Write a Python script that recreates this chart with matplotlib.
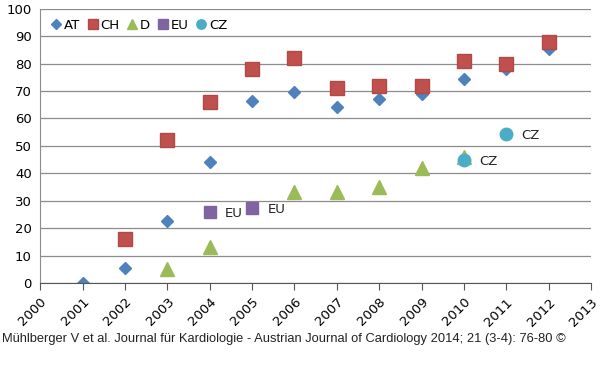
import numpy as np
import matplotlib
matplotlib.use('Agg')
import matplotlib.pyplot as plt

# values
at_years = [2001, 2002, 2003, 2004, 2005, 2006, 2007, 2008, 2009, 2010, 2011, 2012]
at_vals = [0, 5.5, 22.5, 44, 66.5, 69.5, 64, 67, 69, 74.5, 78, 85.5]
ch_years = [2002, 2003, 2004, 2005, 2006, 2007, 2008, 2009, 2010, 2011, 2012]
ch_vals = [16, 52, 66, 78, 82, 71, 72, 72, 81, 80, 88]
d_years = [2003, 2004, 2006, 2007, 2008, 2009, 2010]
d_vals = [5, 13, 33, 33, 35, 42, 46]
eu_years = [2004, 2005]
eu_vals = [26, 27.5]
cz_years = [2010, 2011]
cz_vals = [45, 54.5]
year_ticks = list(range(2000, 2014))
caption = u'M\u00fchlberger V et al. Journal f\u00fcr Kardiologie - Austrian Journal of Cardiology 2014; 21 (3-4): 76-80 \u00a9'

fig = plt.figure(figsize=(6, 3.89), dpi=100)
fig.patch.set_facecolor('white')
ax = fig.add_axes([0.067, 0.2725, 0.918, 0.705])

ax.set_axisbelow(True)
ax.grid(axis='y', color='#8c8c8c', linewidth=0.9)

ax.plot(at_years, at_vals, 'D', color='#4F81BD', markersize=6.5, label='AT', linestyle='none')
ax.plot(ch_years, ch_vals, 's', color='#C0504D', markersize=9.5, label='CH', linestyle='none',
        markeredgecolor='#b04a47')
ax.plot(d_years, d_vals, '^', color='#9BBB59', markersize=10, label='D', linestyle='none')
ax.plot(eu_years, eu_vals, 's', color='#8064A2', markersize=9, label='EU', linestyle='none')
ax.plot(cz_years, cz_vals, 'o', color='#4BACC6', markersize=9, label='CZ', linestyle='none')

for x, y in zip(eu_years, eu_vals):
    ax.annotate('EU', (x, y), xytext=(11, -4), textcoords='offset points', fontsize=9.5, color='#222222')
for x, y in zip(cz_years, cz_vals):
    ax.annotate('CZ', (x, y), xytext=(11, -4), textcoords='offset points', fontsize=9.5, color='#222222')

ax.set_xlim(2000, 2013)
ax.set_ylim(0, 100)
ax.set_yticks(range(0, 101, 10))
ax.set_xticks(year_ticks)
ax.set_xticklabels([str(y) for y in year_ticks], rotation=45, ha='right', rotation_mode='anchor')
ax.tick_params(axis='x', length=5, color='#555555', labelsize=9.5, pad=4)
ax.tick_params(axis='y', length=0, labelsize=9.5, pad=6)

for s in ['top', 'right']:
    ax.spines[s].set_visible(False)
ax.spines['left'].set_color('#8c8c8c')
ax.spines['bottom'].set_color('#555555')

leg = ax.legend(loc='upper left', ncol=5, frameon=False, handletextpad=0.15, handlelength=0.9,
                columnspacing=0.5, fontsize=9.5, borderaxespad=0.45, borderpad=0.3,
                markerscale=0.75)

fig.text(0.003, 0.122, caption, fontsize=9.3, family='Liberation Sans', color='#222222')

plt.savefig('out.png', dpi=100)
